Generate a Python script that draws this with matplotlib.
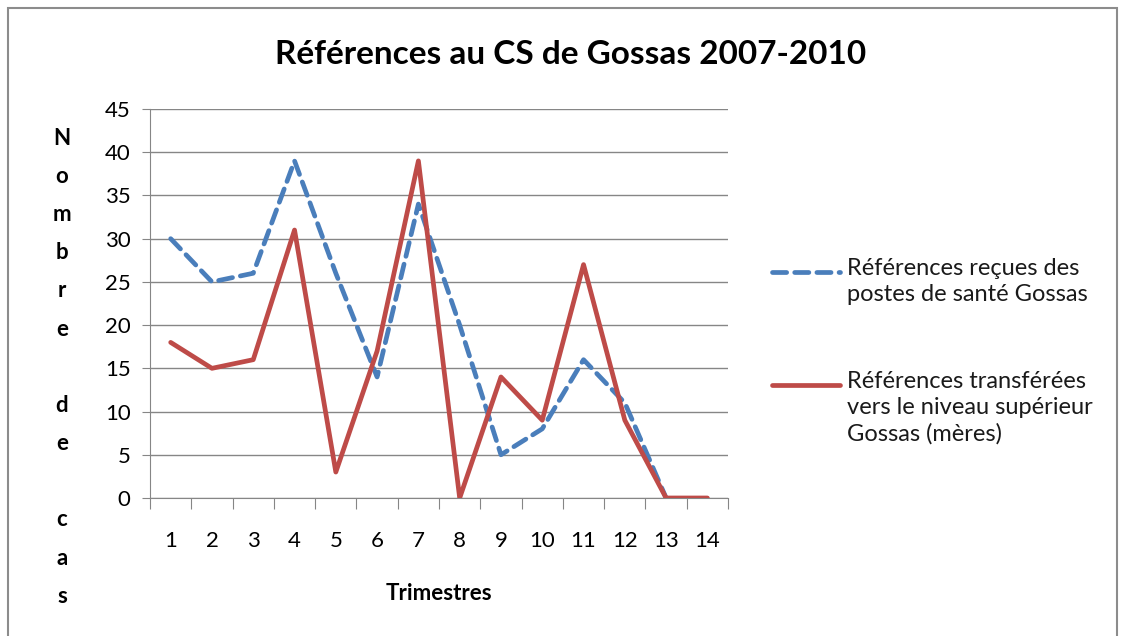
import matplotlib
matplotlib.use("Agg")
import matplotlib.pyplot as plt
from matplotlib.patches import Rectangle
from matplotlib.lines import Line2D
import numpy as np

# -----------------------------
# Data
# -----------------------------
trimestres = ["1", "2", "3", "4", "5", "6", "7", "8", "9", "10", "11", "12", "13", "14"]
recues = [30, 25, 26, 39, 26, 14, 34, 20, 5, 8, 16, 11, 0, np.nan]
transferees = [18, 15, 16, 31, 3, 17, 39, 0, 14, 9, 27, 9, 0, 0]
yticks = [0, 5, 10, 15, 20, 25, 30, 35, 40, 45]

label_recues = "Références reçues des\npostes de santé Gossas"
label_transf = "Références transférées\nvers le niveau supérieur\nGossas (mères)"

plt.rcParams['font.family'] = ['Lato', 'DejaVu Sans']
grey = '#868686'
blue = '#4A7EBB'
red = '#BE4B48'
blue_style = dict(color=blue, lw=3.4, ls=(0, (3, 1.7)), dash_capstyle='round')
red_style = dict(color=red, lw=3.4, solid_capstyle='round')

fig = plt.figure(figsize=(11.23, 6.36), dpi=100)
ax = fig.add_axes([0.1336, 0.217, 0.5147, 0.6116])

x = np.arange(len(trimestres))
ax.plot(x, recues, zorder=3, **blue_style)
ax.plot(x, transferees, zorder=4, **red_style)

# axes
ax.set_xlim(-0.5, len(trimestres) - 0.5)
ax.set_ylim(0, 45)
ax.set_yticks(yticks)
ax.set_xticks(np.arange(-0.5, len(trimestres), 1))
ax.set_xticklabels([])
ax.set_xticks(x, minor=True)
ax.set_xticklabels(trimestres, minor=True)
ax.tick_params(axis='x', which='major', length=8, color=grey, direction='out')
ax.tick_params(axis='x', which='minor', length=0, pad=24, labelsize=16)
ax.tick_params(axis='y', length=6, color=grey, labelsize=16, pad=8)
ax.yaxis.grid(True, color=grey, lw=1)
ax.set_axisbelow(True)
for s in ['top', 'right']:
    ax.spines[s].set_visible(False)
for s in ['left', 'bottom']:
    ax.spines[s].set_color(grey)

ax.set_xlabel("Trimestres", fontsize=16, fontweight='bold', labelpad=23)

# title
fig.text(0.508, 1 - 54 / 636, "Références au CS de Gossas 2007-2010", ha='center', va='center',
         fontsize=24, fontweight='bold')

# stacked y label
letters = list("Nombre") + [""] + list("de") + [""] + list("cas")
for i, ch in enumerate(letters):
    fig.text(62 / 1123, 1 - (138 + i * 38.2) / 636, ch, ha='center', va='center',
             fontsize=16, fontweight='bold')

# legend (handles aligned with the first line of each label)
W, H = 1123, 636
for yl, lab, style in [(272, label_recues, blue_style), (385, label_transf, red_style)]:
    fig.add_artist(Line2D([772 / W, 840 / W], [1 - yl / H, 1 - yl / H],
                          transform=fig.transFigure, **style))
    fig.text(847 / W, 1 - (yl - 14) / H, lab, ha='left', va='top',
             fontsize=17, linespacing=1.3, color='#1a1a1a')

# chart border
fig.patches.append(Rectangle((8 / 1123, -0.05), 1109 / 1123, 1.05 - 8 / 636,
                             transform=fig.transFigure, fill=False,
                             edgecolor='#8c8c8c', lw=1.5))

fig.savefig("out.png", dpi=100)
